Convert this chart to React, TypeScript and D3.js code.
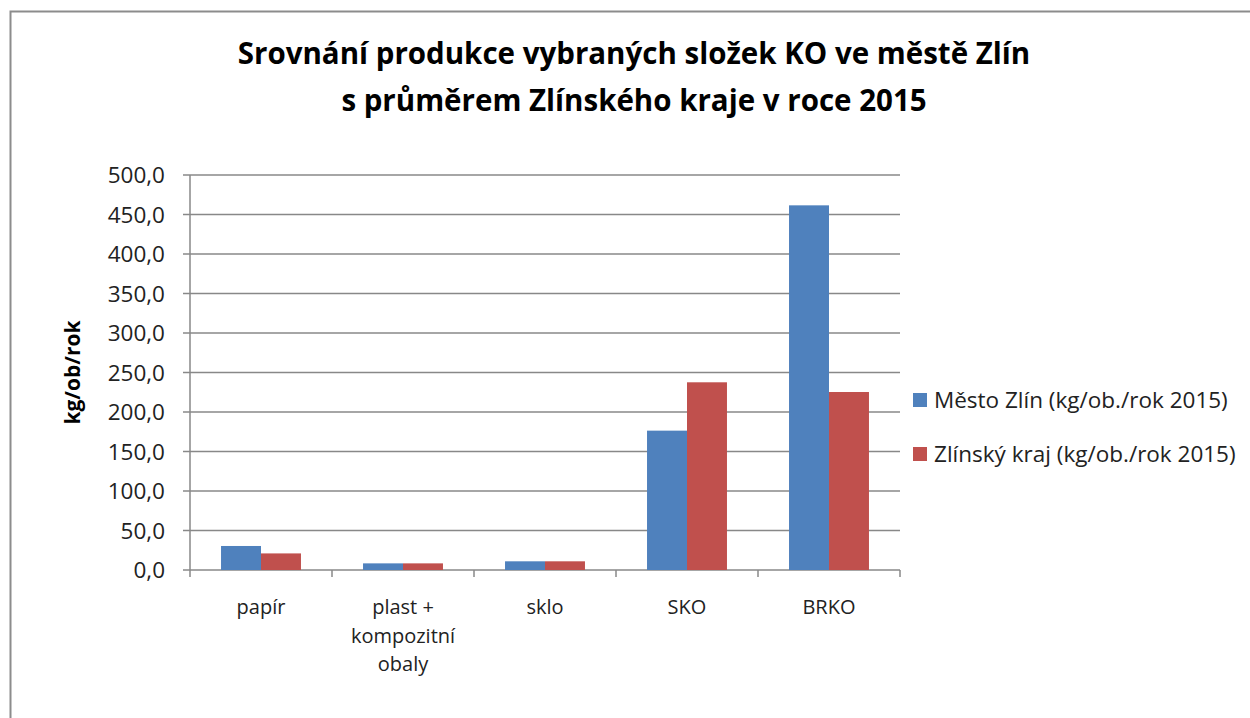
import React from "react";
import * as d3 from "d3";

const categories = ["papír", "plast +\nkompozitní\nobaly", "sklo", "SKO", "BRKO"];
const seriesNames = ["Město Zlín (kg/ob./rok 2015)", "Zlínský kraj (kg/ob./rok 2015)"];
const mestoZlin = [30.4, 8.4, 11.0, 176.4, 461.6];
const zlinskyKraj = [21.0, 8.4, 11.0, 237.6, 225.3];
const yTicks = [0, 50, 100, 150, 200, 250, 300, 350, 400, 450, 500];
const colors = ["#4f81bd", "#c0504d"];
const titleLines = ["Srovnání produkce vybraných složek KO ve městě Zlín", "s průměrem Zlínského kraje v roce 2015"];
const yAxisTitle = "kg/ob/rok";

const W = 1250, H = 718;
const plot = { left: 190, right: 900, top: 175, bottom: 570 };
const font = "'Open Sans', sans-serif";

export default function App() {
  const x = d3.scaleBand<string>().domain(categories).range([plot.left, plot.right]).paddingInner(0.437).paddingOuter(0.2185);
  const y = d3.scaleLinear().domain([0, 500]).range([plot.bottom, plot.top]);
  const bw = x.bandwidth() / 2;
  const series = [mestoZlin, zlinskyKraj];
  const step = (plot.right - plot.left) / categories.length;
  const fmt = (v: number) => d3.format(".1f")(v).replace(".", ",");
  return (
    <svg width={W} height={H} style={{ position: "absolute", left: 0, top: 0, background: "#fff" }}>
      <rect x={0} y={0} width={W} height={H} fill="#fff" />
      <rect x={10.5} y={11.5} width={W + 20} height={H + 20} fill="none" stroke="#8c8c8c" strokeWidth={2} />
      {titleLines.map((t, i) => (
        <text key={i} x={634} y={64 + i * 47} textAnchor="middle" fontFamily={font} fontWeight={700} fontSize={29.5} fill="#000">{t}</text>
      ))}
      {yTicks.map((t) => (
        <g key={t}>
          <line x1={plot.left - 7} x2={plot.right} y1={y(t)} y2={y(t)} stroke="#888" strokeWidth={1.5} />
          <text x={165} y={y(t) + 8} textAnchor="end" fontFamily={font} fontSize={22.5} fill="#222">{fmt(t)}</text>
        </g>
      ))}
      <line x1={plot.left} x2={plot.left} y1={plot.top} y2={plot.bottom} stroke="#888" strokeWidth={1.5} />
      {d3.range(categories.length + 1).map((i) => (
        <line key={i} x1={plot.left + i * step} x2={plot.left + i * step} y1={plot.bottom} y2={plot.bottom + 7} stroke="#888" strokeWidth={1.5} />
      ))}
      {series.map((vals, s) =>
        vals.map((v, i) => (
          <rect key={`${s}-${i}`} x={(x(categories[i]) as number) + s * bw} y={y(v)} width={bw} height={y(0) - y(v)} fill={colors[s]} />
        ))
      )}
      {categories.map((c, i) => (
        <text key={c} x={(x(c) as number) + x.bandwidth() / 2} y={614} textAnchor="middle" fontFamily={font} fontSize={20} fill="#222">
          {c.split("\n").map((ln, j) => (
            <tspan key={j} x={(x(c) as number) + x.bandwidth() / 2} dy={j === 0 ? 0 : 28.5}>{ln}</tspan>
          ))}
        </text>
      ))}
      <text transform={`translate(80, ${(plot.top + plot.bottom) / 2}) rotate(-90)`} textAnchor="middle" fontFamily={font} fontWeight={700} fontSize={21} fill="#000">{yAxisTitle}</text>
      {seriesNames.map((n, i) => (
        <g key={n}>
          <rect x={913} y={393 + i * 54} width={14} height={14} fill={colors[i]} />
          <text x={934} y={408 + i * 54} fontFamily={font} fontSize={22.5} fill="#222">{n}</text>
        </g>
      ))}
    </svg>
  );
}
